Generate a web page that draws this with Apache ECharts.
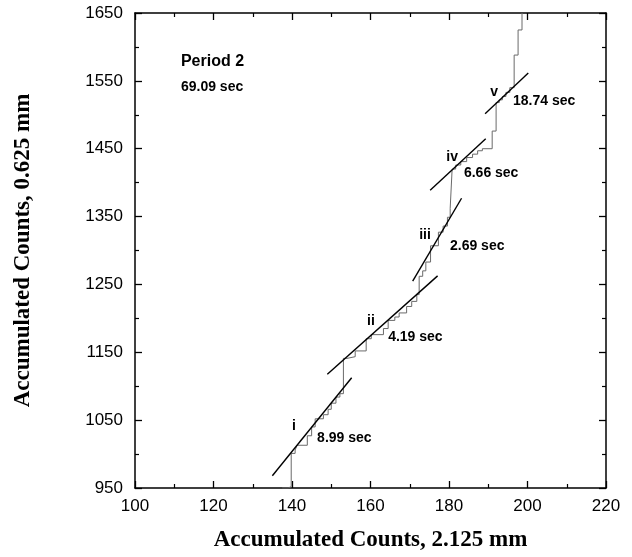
<!DOCTYPE html>
<html>
<head>
<meta charset="utf-8">
<script src="https://cdn.jsdelivr.net/npm/echarts@6/dist/echarts.min.js"></script>
<style>
html,body{margin:0;padding:0;background:#fff;}
#chart{width:632px;height:557px;}
</style>
</head>
<body>
<div id="chart"></div>
<script>
// Staircase (accumulated counts) - tread start points, step drawn horizontal-then-vertical
var stepX = [137.5, 139.0, 139.8, 140.8, 141.3, 143.9, 145.0, 145.9, 148.0, 149.2, 150.0, 151.2, 152.2,
             153.1, 154.0, 156.1, 158.9, 160.2, 163.3, 164.5, 166.2, 167.3, 169.2, 170.5, 171.8,
             172.4, 173.3, 174.1, 175.3, 177.3, 178.5, 179.6, 180.3,
             180.8, 181.7, 183.0, 184.5, 186.0, 187.3, 188.5, 191.0,
             192.0, 192.8, 193.6, 194.5, 195.5, 196.6, 197.6, 198.6];
var stepY = [950, 952, 1001, 1006, 1013, 1027, 1040, 1052, 1058, 1066, 1075, 1084, 1089,
             1141, 1143.5, 1152, 1170, 1176, 1185, 1197, 1202, 1208, 1217.5, 1225, 1235,
             1262, 1270, 1283, 1307, 1327, 1336, 1349, 1362,
             1420, 1426, 1431, 1437, 1442, 1447, 1450, 1476,
             1518, 1522, 1527, 1533, 1540, 1588, 1625, 1650];

// Fitted segment lines i..v
var fitX1 = [135.0, 149.0, 170.75, 175.2, 189.2];
var fitY1 = [968, 1117.6, 1254.8, 1388.8, 1501.4];
var fitX2 = [155.2, 177.1, 183.2, 189.35, 200.2];
var fitY2 = [1112.5, 1262.6, 1377, 1464.6, 1561.5];

// Segment roman labels (centered)
var romanText = ['i', 'ii', 'iii', 'iv', 'v'];
var romanX = [140.5, 160.1, 173.9, 180.8, 191.5];
var romanY = [1041, 1196.5, 1322.8, 1437.2, 1534];

// Segment duration labels (left aligned)
var durText = ['8.99 sec', '4.19 sec', '2.69 sec', '6.66 sec', '18.74 sec', '69.09 sec'];
var durX = [146.4, 164.5, 180.25, 183.8, 196.3, 111.7];
var durY = [1023.4, 1173, 1306.6, 1413.7, 1519.4, 1541.4];

var periodText = ['Period 2'];
var periodX = [111.7];
var periodY = [1578];

// Axis ranges / ticks
var xMin = 100, xMax = 220, xStep = 20;
var yMin = 950, yMax = 1650, yStep = 100;

var sans = 'Liberation Sans, Arial, sans-serif';
var serif = 'Liberation Serif, Times New Roman, serif';

var chart = echarts.init(document.getElementById('chart'));

function zip(a, b) { return a.map(function (v, i) { return [v, b[i]]; }); }

var series = [];
series.push({
  type: 'line', step: 'end', data: zip(stepX, stepY), showSymbol: false, symbol: 'none',
  lineStyle: { color: '#6a6a6a', width: 1 }, clip: true, z: 2, animation: false
});
for (var k = 0; k < fitX1.length; k++) {
  series.push({
    type: 'line', data: [[fitX1[k], fitY1[k]], [fitX2[k], fitY2[k]]], showSymbol: false, symbol: 'none',
    lineStyle: { color: '#000', width: 1.4 }, z: 3, animation: false
  });
}
function labelSeries(xs, ys, texts, align, size) {
  return {
    type: 'scatter', symbolSize: 0, animation: false, z: 5,
    itemStyle: { opacity: 1 },
    data: xs.map(function (x, i) { return { value: [x, ys[i]], name: texts[i] }; }),
    label: {
      show: true, position: 'inside', align: align, verticalAlign: 'middle', opacity: 1,
      formatter: function (p) { return p.name; },
      color: '#000', fontFamily: sans, fontWeight: 'bold', fontSize: size
    },
    emphasis: { disabled: true }
  };
}
series.push(labelSeries(romanX, romanY, romanText, 'center', 14));
series.push(labelSeries(durX, durY, durText, 'left', 14));
series.push(labelSeries(periodX, periodY, periodText, 'left', 16));

var axisLine = { show: true, onZero: false, lineStyle: { color: '#000', width: 1.5 } };
var tick = { show: true, inside: true, length: 7, lineStyle: { color: '#000', width: 1.3 } };
var minor = { show: true, splitNumber: 2, length: 4, lineStyle: { color: '#000', width: 1.2 } };
function plain(v) { return String(v); }

var option = {
  backgroundColor: '#fff',
  animation: false,
  grid: { left: 135, right: 26, top: 13, bottom: 67 },
  xAxis: [{
    type: 'value', min: xMin, max: xMax, interval: xStep, position: 'bottom',
    axisLine: axisLine, axisTick: tick, minorTick: minor, splitLine: { show: false },
    axisLabel: { color: '#000', fontFamily: sans, fontSize: 17, margin: 10, formatter: plain },
    name: 'Accumulated Counts, 2.125 mm', nameLocation: 'middle', nameGap: 41,
    nameTextStyle: { color: '#000', fontFamily: serif, fontWeight: 'bold', fontSize: 23 }
  }, {
    type: 'value', min: xMin, max: xMax, interval: xStep, position: 'top',
    axisLine: axisLine, axisTick: tick, minorTick: minor, splitLine: { show: false },
    axisLabel: { show: false }
  }],
  yAxis: [{
    type: 'value', min: yMin, max: yMax, interval: yStep, position: 'left',
    axisLine: axisLine, axisTick: tick, minorTick: minor, splitLine: { show: false },
    axisLabel: { color: '#000', fontFamily: sans, fontSize: 17, margin: 12, formatter: plain },
    name: 'Accumulated Counts, 0.625 mm', nameLocation: 'middle', nameGap: 100, nameRotate: 90,
    nameTextStyle: { color: '#000', fontFamily: serif, fontWeight: 'bold', fontSize: 23 }
  }, {
    type: 'value', min: yMin, max: yMax, interval: yStep, position: 'right',
    axisLine: axisLine, axisTick: tick, minorTick: minor, splitLine: { show: false },
    axisLabel: { show: false }
  }],
  series: series
};
chart.setOption(option);
</script>
</body>
</html>
